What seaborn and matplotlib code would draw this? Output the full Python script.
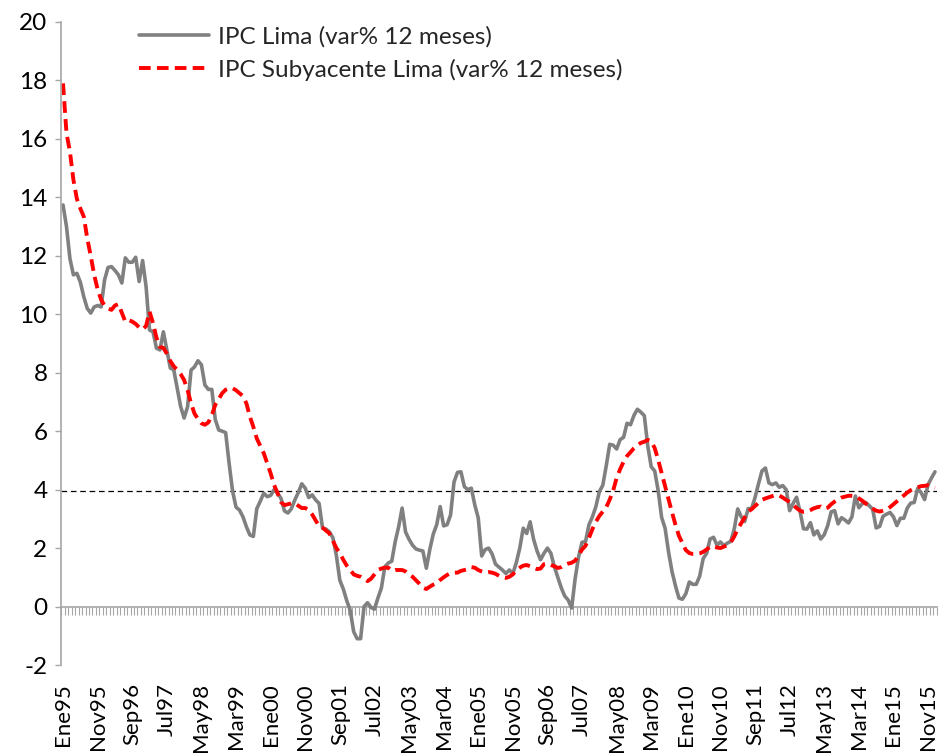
import numpy as np
import pandas as pd
import matplotlib
matplotlib.use("Agg")
import matplotlib.pyplot as plt
import seaborn as sns

# ---------------- data ----------------
meses = ["Ene", "Feb", "Mar", "Abr", "May", "Jun", "Jul", "Ago", "Sep", "Oct", "Nov", "Dic"]
fechas = [f"{m}{y % 100:02d}" for y in range(1995, 2016) for m in meses] + ["Ene16"]

ipc_lima = [
    13.74, 13.0, 11.9, 11.35, 11.4, 11.1, 10.6, 10.2, 10.04, 10.25, 10.3, 10.25,   # 1995
    11.17, 11.6, 11.63, 11.5, 11.35, 11.07, 11.93, 11.78, 11.78, 11.95, 11.12, 11.84,  # 1996
    10.95, 9.46, 9.4, 8.84, 8.78, 9.4, 8.78, 8.16, 8.1, 7.47, 6.84, 6.45,   # 1997
    6.84, 8.09, 8.2, 8.41, 8.27, 7.58, 7.43, 7.43, 6.4, 6.04, 6.0, 5.95,    # 1998
    4.9, 3.95, 3.4, 3.3, 3.07, 2.73, 2.45, 2.4, 3.35, 3.6, 3.88, 3.76,      # 1999
    3.8, 4.0, 3.88, 3.7, 3.27, 3.2, 3.35, 3.65, 3.9, 4.2, 4.05, 3.73,       # 2000
    3.82, 3.65, 3.53, 2.68, 2.65, 2.55, 2.35, 1.75, 0.9, 0.6, 0.2, -0.13,   # 2001
    -0.86, -1.1, -1.1, 0.0, 0.13, -0.03, -0.09, 0.29, 0.63, 1.36, 1.49, 1.55,  # 2002
    2.22, 2.73, 3.37, 2.55, 2.3, 2.1, 1.97, 1.93, 1.9, 1.31, 1.95, 2.48,    # 2003
    2.8, 3.42, 2.76, 2.8, 3.13, 4.26, 4.59, 4.61, 4.1, 4.0, 4.05, 3.48,     # 2004
    3.03, 1.73, 1.95, 2.0, 1.8, 1.45, 1.35, 1.25, 1.13, 1.25, 1.13, 1.5,    # 2005
    2.0, 2.68, 2.5, 2.9, 2.3, 1.9, 1.6, 1.82, 2.0, 1.82, 1.36, 1.0,         # 2006
    0.64, 0.36, 0.22, -0.05, 0.95, 1.7, 2.2, 2.22, 2.8, 3.07, 3.42, 3.93,   # 2007
    4.15, 4.82, 5.55, 5.52, 5.39, 5.71, 5.79, 6.27, 6.22, 6.54, 6.75, 6.65,  # 2008
    6.53, 5.49, 4.78, 4.64, 3.97, 3.05, 2.68, 1.87, 1.20, 0.71, 0.29, 0.25,  # 2009
    0.44, 0.84, 0.76, 0.76, 1.04, 1.64, 1.82, 2.31, 2.37, 2.10, 2.21, 2.08,  # 2010
    2.17, 2.23, 2.66, 3.34, 3.07, 2.91, 3.35, 3.35, 3.73, 4.20, 4.64, 4.74,  # 2011
    4.23, 4.17, 4.23, 4.08, 4.14, 4.00, 3.28, 3.53, 3.74, 3.25, 2.66, 2.65,  # 2012
    2.87, 2.45, 2.59, 2.31, 2.46, 2.77, 3.24, 3.28, 2.83, 3.04, 2.96, 2.86,  # 2013
    3.07, 3.78, 3.38, 3.52, 3.56, 3.45, 3.33, 2.69, 2.74, 3.09, 3.16, 3.22,  # 2014
    3.07, 2.77, 3.02, 3.02, 3.37, 3.54, 3.56, 4.04, 3.90, 3.66, 4.17, 4.40,  # 2015
    4.61,                                                                  # 2016
]

ipc_subyacente = [
    17.9, 16.2, 15.56, 14.6, 13.95, 13.62, 13.34, 12.6, 12.0, 11.35, 10.85, 10.5,  # 1995
    10.3, 10.2, 10.15, 10.3, 10.35, 10.05, 9.75, 9.8, 9.75, 9.67, 9.55, 9.48,      # 1996
    9.6, 10.09, 9.7, 9.2, 8.88, 8.85, 8.65, 8.4, 8.22, 8.1, 7.95, 7.75,            # 1997
    7.4, 6.95, 6.6, 6.42, 6.27, 6.22, 6.3, 6.55, 6.9, 7.1, 7.3, 7.42,              # 1998
    7.47, 7.47, 7.4, 7.3, 7.2, 6.95, 6.5, 6.15, 5.75, 5.5, 5.25, 4.9,              # 1999
    4.56, 4.16, 3.88, 3.57, 3.47, 3.5, 3.53, 3.53, 3.45, 3.37, 3.37, 3.3,          # 2000
    3.15, 2.95, 2.75, 2.7, 2.6, 2.5, 2.25, 2.0, 1.83, 1.6, 1.4, 1.25,              # 2001
    1.1, 1.05, 1.02, 0.95, 0.87, 0.95, 1.1, 1.25, 1.3, 1.33, 1.33, 1.22,           # 2002
    1.25, 1.25, 1.25, 1.2, 1.1, 1.02, 0.9, 0.78, 0.65, 0.6, 0.68, 0.75,            # 2003
    0.8, 0.91, 1.0, 1.08, 1.14, 1.16, 1.16, 1.22, 1.25, 1.28, 1.35, 1.33,          # 2004
    1.25, 1.2, 1.16, 1.18, 1.16, 1.12, 1.05, 1.0, 0.98, 1.02, 1.1, 1.25,           # 2005
    1.33, 1.4, 1.42, 1.38, 1.32, 1.28, 1.3, 1.45, 1.47, 1.42, 1.38, 1.32,          # 2006
    1.35, 1.42, 1.47, 1.5, 1.57, 1.75, 1.95, 2.08, 2.35, 2.65, 2.9, 3.1,           # 2007
    3.25, 3.4, 3.66, 3.97, 4.4, 4.7, 4.95, 5.15, 5.28, 5.42, 5.52, 5.6,            # 2008
    5.64, 5.7, 5.66, 5.42, 5.02, 4.57, 4.12, 3.67, 3.22, 2.8, 2.42, 2.17,          # 2009
    1.93, 1.83, 1.8, 1.8, 1.82, 1.87, 1.95, 2.05, 2.05, 2.02, 2.0, 2.05,           # 2010
    2.1, 2.2, 2.4, 2.65, 2.85, 3.05, 3.25, 3.33, 3.44, 3.55, 3.65, 3.7,            # 2011
    3.74, 3.78, 3.82, 3.8, 3.73, 3.65, 3.58, 3.48, 3.37, 3.28, 3.24, 3.25,         # 2012
    3.3, 3.36, 3.4, 3.42, 3.35, 3.38, 3.5, 3.59, 3.67, 3.73, 3.76, 3.79,           # 2013
    3.79, 3.78, 3.7, 3.62, 3.52, 3.44, 3.35, 3.28, 3.25, 3.28, 3.32, 3.4,          # 2014
    3.5, 3.6, 3.7, 3.8, 3.9, 3.98, 4.04, 4.08, 4.12, 4.13, 4.15, 4.1,              # 2015
    4.06,                                                                          # 2016
]

etiquetas_x = ["Ene95", "Nov95", "Sep96", "Jul97", "May98", "Mar99", "Ene00", "Nov00",
               "Sep01", "Jul02", "May03", "Mar04", "Ene05", "Nov05", "Sep06", "Jul07",
               "May08", "Mar09", "Ene10", "Nov10", "Sep11", "Jul12", "May13", "Mar14",
               "Ene15", "Nov15"]
y_ticks = [-2, 0, 2, 4, 6, 8, 10, 12, 14, 16, 18, 20]
linea_ref = 3.94

serie_1 = "IPC Lima (var% 12 meses)"
serie_2 = "IPC Subyacente Lima (var% 12 meses)"

df = pd.DataFrame({"fecha": fechas, "t": np.arange(len(fechas)),
                   serie_1: ipc_lima, serie_2: ipc_subyacente})

# ---------------- style ----------------
sns.set_style("white")
plt.rcParams["font.family"] = ["Lato", "DejaVu Sans"]
plt.rcParams["axes.unicode_minus"] = False

W, H = 938, 753
fig = plt.figure(figsize=(W / 100, H / 100), dpi=100)
left_px, right_px, top_px, bot_px = 61.3, 936.7, 22, 665
ax = fig.add_axes([left_px / W, 1 - bot_px / H, (right_px - left_px) / W, (bot_px - top_px) / H])

FS = 17.5
FS_X = 16
gris_eje = "#A6A6A6"

sns.lineplot(data=df, x="t", y=serie_1, ax=ax, color="#808080", linewidth=2.6,
             label=serie_1, solid_joinstyle="round", solid_capstyle="round")
sns.lineplot(data=df, x="t", y=serie_2, ax=ax, color="#FF0000", linewidth=2.8,
             linestyle=(0, (3.0, 1.6)), label=serie_2, dash_capstyle="butt")
ax.axhline(linea_ref, color="black", linewidth=0.9, linestyle=(0, (4.5, 3.0)), zorder=1)

ax.set_xlim(-0.5, len(fechas) - 0.5)
ax.set_ylim(-2, 20)
ax.set_xlabel("")
ax.set_ylabel("")

# y axis
ax.set_yticks(y_ticks)
ax.set_yticklabels([str(v) for v in y_ticks])
ax.tick_params(axis="y", direction="out", length=4, width=1, color=gris_eje,
               labelsize=FS, pad=6, left=True, labelcolor="black")

# category labels at the bottom
pos_lab = [fechas.index(e) for e in etiquetas_x]
ax.set_xticks(pos_lab)
ax.set_xticklabels(etiquetas_x, rotation=90, fontsize=FS_X)
ax.tick_params(axis="x", length=0, pad=13, labelcolor="black")

for s in ["top", "right", "bottom"]:
    ax.spines[s].set_visible(False)
ax.spines["left"].set_color(gris_eje)
ax.spines["left"].set_linewidth(1.2)

# horizontal category axis crossing at zero, with one tick per month
sec = ax.secondary_xaxis(2 / 22)
sec.set_xticks(np.arange(-0.5, len(fechas), 1.0))
sec.xaxis.set_ticks_position("bottom")
sec.tick_params(axis="x", direction="out", length=6, width=0.8, color=gris_eje,
                labelbottom=False, labeltop=False)
for s in sec.spines.values():
    s.set_color(gris_eje)
    s.set_linewidth(1.2)

# legend
h, l = ax.get_legend_handles_labels()
leg = ax.legend(h, l, loc="upper left", bbox_to_anchor=(139 / W, 1 - 26 / H),
                bbox_transform=fig.transFigure, frameon=False, fontsize=FS,
                handlelength=2.9, handletextpad=0.33, labelspacing=0.45,
                borderpad=0, borderaxespad=0)

fig.savefig("out.png", dpi=100)
